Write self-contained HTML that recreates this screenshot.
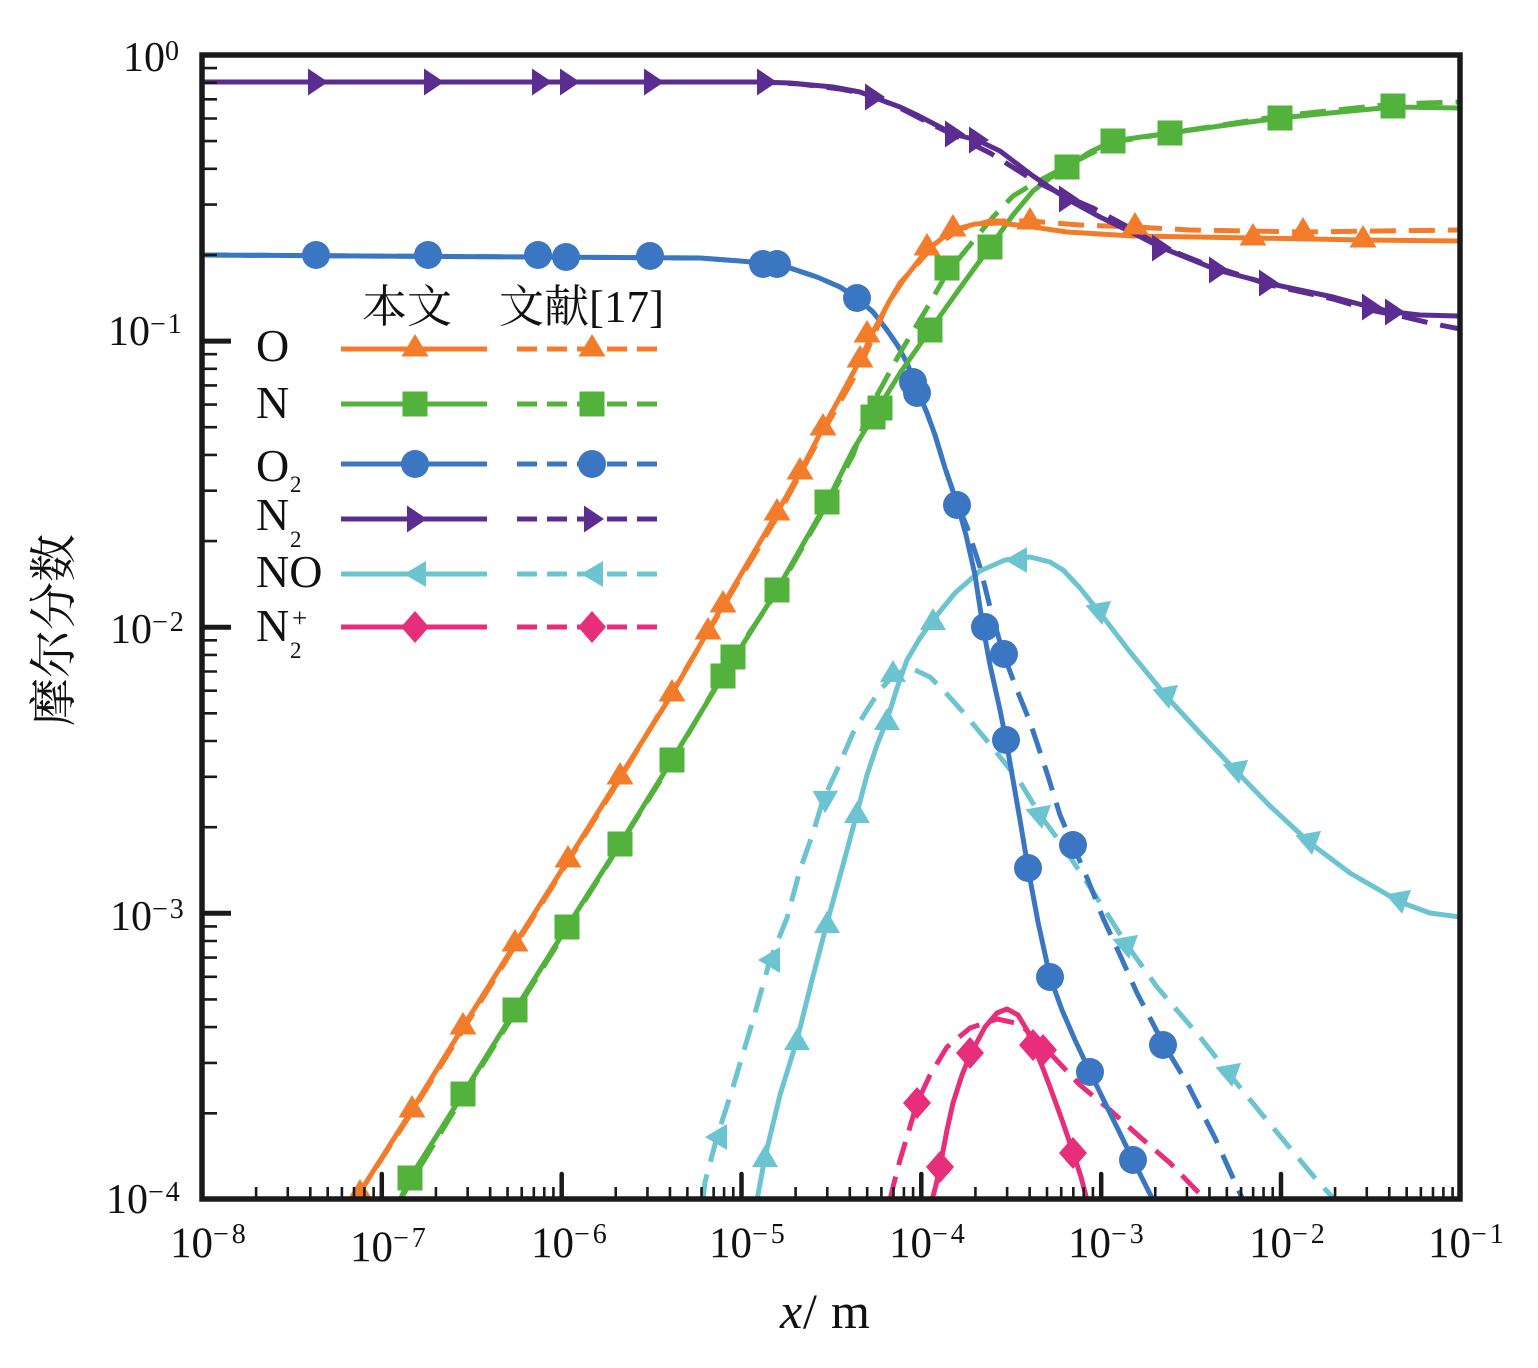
<!DOCTYPE html>
<html>
<head>
<meta charset="utf-8">
<style>
  html,body{margin:0;padding:0;background:#fff;}
  svg{display:block;}
  .num{font-family:"Liberation Serif","DejaVu Serif",serif;fill:#111;}
  .cjk{font-family:"Liberation Serif","Noto Serif CJK SC","Noto Sans CJK SC",serif;fill:#111;}
</style>
</head>
<body>
<svg width="1538" height="1368" viewBox="0 0 1538 1368" xmlns="http://www.w3.org/2000/svg">
  <rect x="0" y="0" width="1538" height="1368" fill="#fff"/>
  <defs>
    <clipPath id="plot"><rect x="204" y="57" width="1254" height="1140"/></clipPath>
    <polygon id="mTri" points="0,-15 13.5,7.5 -13.5,7.5"/>
    <rect id="mSq" x="-12.5" y="-12.5" width="25" height="25"/>
    <circle id="mCir" r="14"/>
    <polygon id="mTriR" points="-8,-13.5 12,0 -8,13.5"/>
    <polygon id="mTriL" points="-12,0 10,-13 10,13"/>
    <polygon id="mDia" points="0,-16 14,0 0,16 -14,0"/>
    <path id="xd" d="M54.1 0v-12M85.8 0v-12M108.3 0v-12M125.7 0v-12M139.9 0v-12M152 0v-12M162.4 0v-12M171.6 0v-12" stroke="#1a1a1a" stroke-width="2.6" fill="none"/>
    <path id="yd" d="M0 -86.1h15M0 -136.5h15M0 -172.3h15M0 -200h15M0 -222.6h15M0 -241.8h15M0 -258.4h15M0 -273h15" stroke="#1a1a1a" stroke-width="2.6" fill="none"/>
  </defs>

  <!-- ===== curves ===== -->
  <g clip-path="url(#plot)" fill="none" stroke-width="5" stroke-linejoin="round">
    <!-- NO cyan -->
    <polyline stroke="#6CC4D1" stroke-dasharray="26 13" points="703,1200 705,1182 717,1137 733,1087 753,1020 770,960 787,918 800,870 813,833 823,800 837,770 853,733 867,710 880,690 893,676 905,670 915,670 930,677 945,692 963,712 993,748 1020,782 1040,815 1060,842 1090,887 1127,945 1157,987 1200,1037 1230,1075 1260,1112 1290,1148 1315,1178 1335,1200"/>
    <polyline stroke="#6CC4D1" stroke-linecap="round" points="757,1200 765,1157 780,1095 797,1040 812,980 827,923 843,865 857,813 867,775 877,745 887,720 897,688 907,660 920,638 933,620 955,593 980,571 1005,560 1030,557 1050,562 1063,570 1080,588 1100,613 1130,652 1167,697 1200,733 1237,772 1270,806 1310,843 1350,873 1400,902 1430,913 1460,917"/>
    <!-- N2+ pink -->
    <polyline stroke="#E62E7B" stroke-dasharray="24 12" points="890,1200 893,1187 900,1160 907,1137 917,1103 930,1075 947,1047 970,1028 997,1019 1020,1024 1047,1050 1080,1085 1110,1110 1140,1137 1170,1163 1198,1192 1206,1200"/>
    <polyline stroke="#E62E7B" stroke-linecap="round" points="932,1200 936,1185 940,1167 947,1130 953,1103 962,1075 970,1055 985,1027 997,1013 1007,1009 1018,1015 1027,1030 1033,1045 1042,1066 1050,1087 1062,1120 1073,1152 1081,1177 1087,1200"/>
    <!-- O2 blue -->
    <polyline stroke="#3A76C2" stroke-dasharray="26 13" points="203,255 700,258 740,261 763,263 790,268 817,277 840,287 857,298 873,312 887,330 898,346 907,363 918,392 927,413 935,435 945,468 957,503 967,527 980,567 990,607 1003,653 1017,690 1030,722 1047,773 1060,815 1073,845 1088,880 1103,918 1120,955 1137,993 1163,1043 1187,1083 1215,1138 1243,1200"/>
    <polyline stroke="#3A76C2" stroke-linecap="round" points="203,255 700,258 740,261 763,263 790,268 817,277 840,287 857,298 873,312 887,330 898,346 907,363 918,392 927,413 935,435 945,468 957,503 966,535 975,575 983,627 990,665 1000,710 1006,740 1013,780 1020,820 1028,868 1038,922 1050,977 1062,1010 1075,1040 1090,1072 1110,1113 1133,1160 1153,1200"/>
    <!-- N green -->
    <polyline stroke="#52B23C" stroke-dasharray="26 13" points="400,1200 463,1096 567,929 672,762 733,657 777,592 827,504 853,455 870,408 900,353 930,303 947,273 970,245 993,217 1013,196 1033,184 1067,166 1113,142 1170,133 1280,116 1393,104 1460,102"/>
    <polyline stroke="#52B23C" stroke-linecap="round" points="400,1200 410,1178 463,1094 515,1010 567,927 620,844 672,760 723,676 777,590 827,502 853,450 873,417 900,373 930,330 960,288 990,247 1013,215 1033,191 1050,178 1067,167 1090,152 1113,141 1170,133 1220,126 1280,118 1340,112 1393,107 1460,108"/>
    <!-- O orange -->
    <polyline stroke="#F37C2B" stroke-dasharray="26 13" points="355,1200 412,1112 515,946 620,779 723,607 777,517 823,432 860,367 887,305 900,283 930,250 960,229 990,221 1030,221 1080,225 1135,227 1190,230 1303,232 1380,231 1460,230"/>
    <polyline stroke="#F37C2B" stroke-linecap="round" points="355,1200 360,1192 412,1110 463,1027 515,944 568,860 620,777 672,694 723,605 777,513 800,472 823,428 845,388 860,360 875,328 890,300 905,278 927,250 953,230 975,224 1000,223 1033,227 1067,232 1133,236 1253,238 1363,240 1460,241"/>
    <!-- N2 purple -->
    <polyline stroke="#5B2D90" stroke-dasharray="26 13" points="203,82 760,82 800,84 840,89 870,95 900,108 933,125 960,138 990,153 1033,180 1063,195 1093,208 1130,228 1160,246 1200,262 1270,285 1333,299 1370,310 1400,316 1430,323 1460,329"/>
    <polyline stroke="#5B2D90" stroke-linecap="round" points="203,82 760,82 790,83 833,87 860,92 873,97 900,107 917,115 940,127 953,134 977,140 1000,151 1033,176 1067,199 1100,217 1133,233 1160,247 1200,263 1217,270 1267,283 1333,297 1370,307 1393,312 1420,315 1460,316"/>
  </g>

  <!-- ===== markers ===== -->
  <g clip-path="url(#plot)">
    <!-- cyan NO -->
    <g fill="#6CC4D1">
      <use href="#mTriL" transform="translate(765,1157) rotate(90)"/>
      <use href="#mTriL" transform="translate(797,1040) rotate(90)"/>
      <use href="#mTriL" transform="translate(827,923) rotate(90)"/>
      <use href="#mTriL" transform="translate(857,813) rotate(90)"/>
      <use href="#mTriL" transform="translate(887,720) rotate(90)"/>
      <use href="#mTriL" transform="translate(933,620) rotate(90)"/>
      <use href="#mTriL" transform="translate(1017,560)"/>
      <use href="#mTriL" transform="translate(1100,613) rotate(-100)"/>
      <use href="#mTriL" transform="translate(1167,697) rotate(-100)"/>
      <use href="#mTriL" transform="translate(1237,772) rotate(-100)"/>
      <use href="#mTriL" transform="translate(1310,843) rotate(-100)"/>
      <use href="#mTriL" transform="translate(1400,902) rotate(-100)"/>
      <use href="#mTriL" transform="translate(717,1137)"/>
      <use href="#mTriL" transform="translate(770,960)"/>
      <use href="#mTriL" transform="translate(823,797) rotate(30)"/>
      <use href="#mTriL" transform="translate(893,672) rotate(90)"/>
      <use href="#mTriL" transform="translate(1040,817) rotate(-100)"/>
      <use href="#mTriL" transform="translate(1127,947) rotate(-100)"/>
      <use href="#mTriL" transform="translate(1230,1075) rotate(-100)"/>
    </g>
    <!-- pink N2+ -->
    <g fill="#E62E7B">
      <use href="#mDia" transform="translate(940,1167)"/>
      <use href="#mDia" transform="translate(970,1053)"/>
      <use href="#mDia" transform="translate(1033,1045)"/>
      <use href="#mDia" transform="translate(1073,1153)"/>
      <use href="#mDia" transform="translate(917,1103)"/>
      <use href="#mDia" transform="translate(1043,1050)"/>
    </g>
    <!-- blue O2 -->
    <g fill="#3A76C2">
      <use href="#mCir" transform="translate(316,255)"/>
      <use href="#mCir" transform="translate(428,255)"/>
      <use href="#mCir" transform="translate(538,255)"/>
      <use href="#mCir" transform="translate(566,257)"/>
      <use href="#mCir" transform="translate(650,256)"/>
      <use href="#mCir" transform="translate(763,264)"/>
      <use href="#mCir" transform="translate(777,264)"/>
      <use href="#mCir" transform="translate(857,298)"/>
      <use href="#mCir" transform="translate(913,382)"/>
      <use href="#mCir" transform="translate(917,393)"/>
      <use href="#mCir" transform="translate(957,505)"/>
      <use href="#mCir" transform="translate(985,627)"/>
      <use href="#mCir" transform="translate(1004,654)"/>
      <use href="#mCir" transform="translate(1006,740)"/>
      <use href="#mCir" transform="translate(1028,868)"/>
      <use href="#mCir" transform="translate(1050,977)"/>
      <use href="#mCir" transform="translate(1073,845)"/>
      <use href="#mCir" transform="translate(1090,1072)"/>
      <use href="#mCir" transform="translate(1133,1160)"/>
      <use href="#mCir" transform="translate(1163,1045)"/>
    </g>
    <!-- green N -->
    <g fill="#52B23C">
      <use href="#mSq" transform="translate(410,1178)"/>
      <use href="#mSq" transform="translate(463,1094)"/>
      <use href="#mSq" transform="translate(515,1010)"/>
      <use href="#mSq" transform="translate(567,927)"/>
      <use href="#mSq" transform="translate(620,844)"/>
      <use href="#mSq" transform="translate(672,760)"/>
      <use href="#mSq" transform="translate(723,676)"/>
      <use href="#mSq" transform="translate(733,657)"/>
      <use href="#mSq" transform="translate(777,590)"/>
      <use href="#mSq" transform="translate(827,502)"/>
      <use href="#mSq" transform="translate(873,417)"/>
      <use href="#mSq" transform="translate(880,408)"/>
      <use href="#mSq" transform="translate(930,330)"/>
      <use href="#mSq" transform="translate(947,268)"/>
      <use href="#mSq" transform="translate(990,247)"/>
      <use href="#mSq" transform="translate(1067,167)"/>
      <use href="#mSq" transform="translate(1113,141)"/>
      <use href="#mSq" transform="translate(1170,133)"/>
      <use href="#mSq" transform="translate(1280,118)"/>
      <use href="#mSq" transform="translate(1393,106)"/>
    </g>
    <!-- orange O -->
    <g fill="#F37C2B">
      <use href="#mTri" transform="translate(360,1194)"/>
      <use href="#mTri" transform="translate(412,1110)"/>
      <use href="#mTri" transform="translate(463,1027)"/>
      <use href="#mTri" transform="translate(515,944)"/>
      <use href="#mTri" transform="translate(568,860)"/>
      <use href="#mTri" transform="translate(620,777)"/>
      <use href="#mTri" transform="translate(672,694)"/>
      <use href="#mTri" transform="translate(708,632)"/>
      <use href="#mTri" transform="translate(723,605)"/>
      <use href="#mTri" transform="translate(777,513)"/>
      <use href="#mTri" transform="translate(800,472)"/>
      <use href="#mTri" transform="translate(823,428)"/>
      <use href="#mTri" transform="translate(860,360)"/>
      <use href="#mTri" transform="translate(867,335)"/>
      <use href="#mTri" transform="translate(927,248)"/>
      <use href="#mTri" transform="translate(953,229)"/>
      <use href="#mTri" transform="translate(1030,222)"/>
      <use href="#mTri" transform="translate(1135,227)"/>
      <use href="#mTri" transform="translate(1253,238)"/>
      <use href="#mTri" transform="translate(1303,232)"/>
      <use href="#mTri" transform="translate(1363,240)"/>
    </g>
    <!-- purple N2 -->
    <g fill="#5B2D90">
      <use href="#mTriR" transform="translate(316,82)"/>
      <use href="#mTriR" transform="translate(432,82)"/>
      <use href="#mTriR" transform="translate(540,82)"/>
      <use href="#mTriR" transform="translate(568,82)"/>
      <use href="#mTriR" transform="translate(652,82)"/>
      <use href="#mTriR" transform="translate(765,82)"/>
      <use href="#mTriR" transform="translate(873,97)"/>
      <use href="#mTriR" transform="translate(953,134)"/>
      <use href="#mTriR" transform="translate(977,140)"/>
      <use href="#mTriR" transform="translate(1067,199)"/>
      <use href="#mTriR" transform="translate(1160,248)"/>
      <use href="#mTriR" transform="translate(1217,270)"/>
      <use href="#mTriR" transform="translate(1267,283)"/>
      <use href="#mTriR" transform="translate(1370,307)"/>
      <use href="#mTriR" transform="translate(1393,312)"/>
    </g>
  </g>

  <!-- ===== axes ===== -->
  <rect x="202" y="55" width="1258" height="1144" fill="none" stroke="#1a1a1a" stroke-width="5.5"/>
  <!-- x minor ticks -->
  <use href="#xd" transform="translate(202,1199)"/>
  <use href="#xd" transform="translate(381.83,1199)"/>
  <use href="#xd" transform="translate(561.66,1199)"/>
  <use href="#xd" transform="translate(741.49,1199)"/>
  <use href="#xd" transform="translate(921.32,1199)"/>
  <use href="#xd" transform="translate(1101.15,1199)"/>
  <use href="#xd" transform="translate(1280.98,1199)"/>
  <!-- x major ticks -->
  <path d="M381.8 1199v-25M561.7 1199v-25M741.5 1199v-25M921.3 1199v-25M1101.2 1199v-25M1281 1199v-25" stroke="#1a1a1a" stroke-width="4.5" stroke-linecap="round" fill="none"/>
  <!-- y minor ticks -->
  <use href="#yd" transform="translate(202,341.1)"/>
  <use href="#yd" transform="translate(202,627.2)"/>
  <use href="#yd" transform="translate(202,913.3)"/>
  <use href="#yd" transform="translate(202,1199.4)"/>
  <!-- y major ticks -->
  <path d="M202 341.1h29M202 627.2h29M202 913.3h29" stroke="#1a1a1a" stroke-width="5" fill="none"/>

  <!-- y tick labels -->
  <g class="num" font-size="42">
    <text x="123" y="71">10<tspan font-size="28" dy="-11">0</tspan></text>
    <text x="108" y="345">10<tspan font-size="28" dy="-12" letter-spacing="2">−1</tspan></text>
    <text x="110" y="643">10<tspan font-size="28" dy="-12" letter-spacing="2">−2</tspan></text>
    <text x="110" y="930">10<tspan font-size="28" dy="-12" letter-spacing="2">−3</tspan></text>
    <text x="106" y="1213">10<tspan font-size="28" dy="-12" letter-spacing="2">−4</tspan></text>
  </g>
  <!-- x tick labels -->
  <g class="num" font-size="43">
    <text x="170" y="1257">10<tspan font-size="28" dy="-14" letter-spacing="3">−8</tspan></text>
    <text x="350" y="1261">10<tspan font-size="28" dy="-14" letter-spacing="3">−7</tspan></text>
    <text x="531" y="1257">10<tspan font-size="28" dy="-14" letter-spacing="3">−6</tspan></text>
    <text x="709" y="1257">10<tspan font-size="28" dy="-14" letter-spacing="3">−5</tspan></text>
    <text x="889" y="1257">10<tspan font-size="28" dy="-14" letter-spacing="3">−4</tspan></text>
    <text x="1068" y="1257">10<tspan font-size="28" dy="-14" letter-spacing="3">−3</tspan></text>
    <text x="1249" y="1257">10<tspan font-size="28" dy="-14" letter-spacing="3">−2</tspan></text>
    <text x="1428" y="1257">10<tspan font-size="28" dy="-14" letter-spacing="3">−1</tspan></text>
  </g>

  <!-- axis titles -->
  <text class="num" font-size="50" y="1328"><tspan x="780" font-style="italic">x</tspan><tspan x="803">/</tspan><tspan x="831">m</tspan></text>
  <text class="cjk" font-size="48" text-anchor="middle" transform="translate(70,630) rotate(-90)">摩尔分数</text>

  <!-- ===== legend ===== -->
  <text class="cjk" font-size="45" x="362" y="322">本文</text>
  <text class="cjk" font-size="45" x="499" y="322">文献[17]</text>

  <g class="num" font-size="46">
    <text x="256" y="361">O</text>
    <text x="256" y="418">N</text>
    <text x="256" y="481">O</text>
    <text x="290" y="492" font-size="23">2</text>
    <text x="256" y="530">N</text>
    <text x="290" y="547" font-size="23">2</text>
    <text x="256" y="587">NO</text>
    <text x="256" y="641">N</text>
    <text x="292" y="627" font-size="27">+</text>
    <text x="290" y="658" font-size="23">2</text>
  </g>

  <g fill="none" stroke-width="5">
    <path d="M341 349H487" stroke="#F37C2B"/>
    <path d="M517 349H663" stroke="#F37C2B" stroke-dasharray="20 10"/>
    <path d="M341 404H487" stroke="#52B23C"/>
    <path d="M517 404H663" stroke="#52B23C" stroke-dasharray="20 10"/>
    <path d="M341 464H487" stroke="#3A76C2"/>
    <path d="M517 464H663" stroke="#3A76C2" stroke-dasharray="20 10"/>
    <path d="M341 519H487" stroke="#5B2D90"/>
    <path d="M517 519H663" stroke="#5B2D90" stroke-dasharray="20 10"/>
    <path d="M341 574H487" stroke="#6CC4D1"/>
    <path d="M517 574H663" stroke="#6CC4D1" stroke-dasharray="20 10"/>
    <path d="M341 627H487" stroke="#E62E7B"/>
    <path d="M517 627H663" stroke="#E62E7B" stroke-dasharray="20 10"/>
  </g>
  <use href="#mTri" fill="#F37C2B" transform="translate(415,349)"/>
  <use href="#mTri" fill="#F37C2B" transform="translate(592,349)"/>
  <use href="#mSq" fill="#52B23C" transform="translate(415,404)"/>
  <use href="#mSq" fill="#52B23C" transform="translate(592,404)"/>
  <use href="#mCir" fill="#3A76C2" transform="translate(415,464)"/>
  <use href="#mCir" fill="#3A76C2" transform="translate(592,464)"/>
  <use href="#mTriR" fill="#5B2D90" transform="translate(415,519)"/>
  <use href="#mTriR" fill="#5B2D90" transform="translate(592,519)"/>
  <use href="#mTriL" fill="#6CC4D1" transform="translate(416,574)"/>
  <use href="#mTriL" fill="#6CC4D1" transform="translate(593,574)"/>
  <use href="#mDia" fill="#E62E7B" transform="translate(415,627)"/>
  <use href="#mDia" fill="#E62E7B" transform="translate(592,627)"/>
</svg>
</body>
</html>
